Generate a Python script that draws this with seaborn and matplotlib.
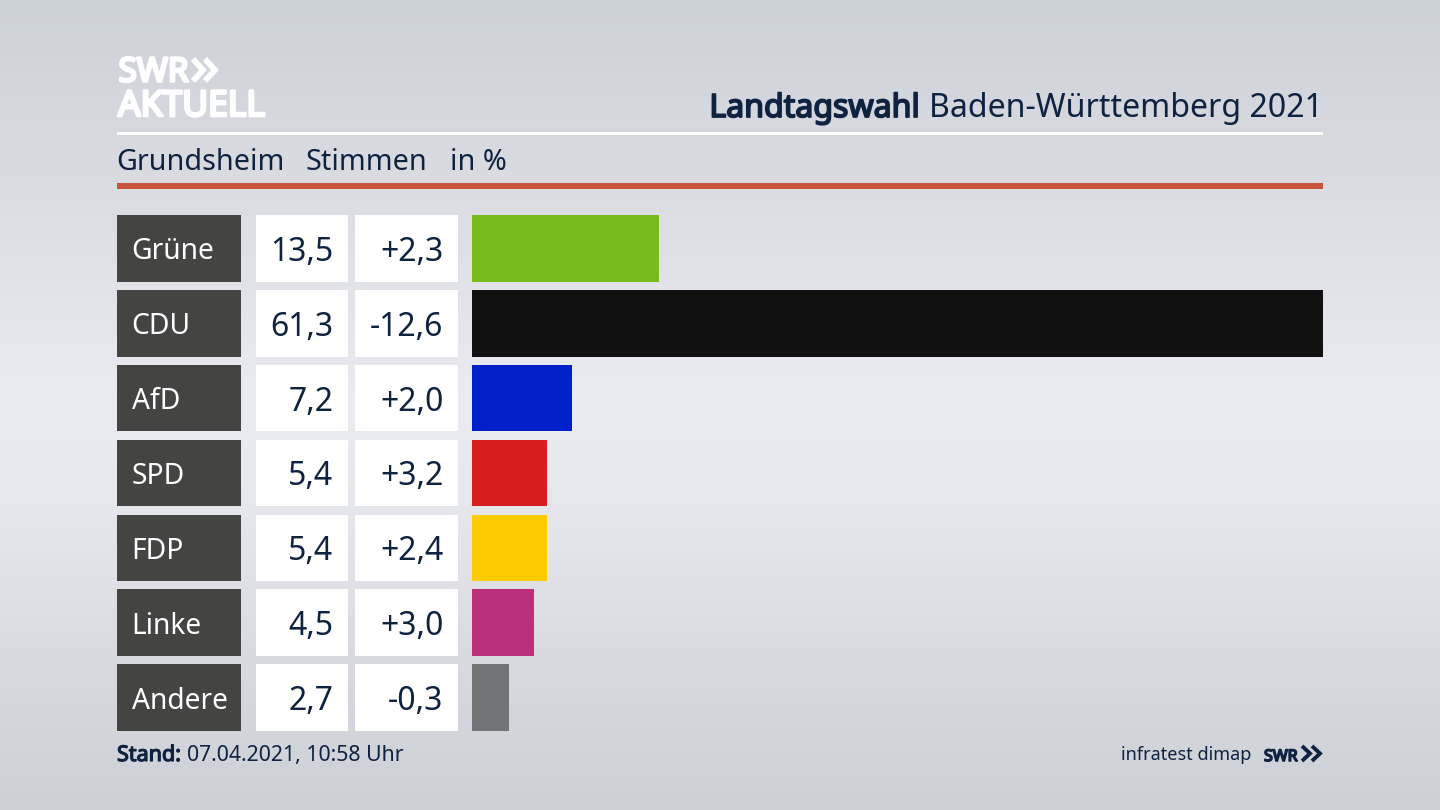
import numpy as np
import pandas as pd
import seaborn as sns
import matplotlib
matplotlib.use("Agg")
import matplotlib.pyplot as plt
import matplotlib.patheffects as pe
from matplotlib.colors import LinearSegmentedColormap

parties = ["Grüne", "CDU", "AfD", "SPD", "FDP", "Linke", "Andere"]
shares = [13.5, 61.3, 7.2, 5.4, 5.4, 4.5, 2.7]
changes = ["+2,3", "-12,6", "+2,0", "+3,2", "+2,4", "+3,0", "-0,3"]
colors = ["#78bc1b", "#111111", "#0020c8", "#d71f1d", "#ffcc00", "#bc2f7b", "#737476"]
title_bold = "Landtagswahl"
title_rest = "Baden-Württemberg 2021"
subtitle = ["Grundsheim", "Stimmen", "in %"]
stand_bold = "Stand:"
stand_rest = "07.04.2021, 10:58 Uhr"
source = "infratest dimap"

NAVY = "#0f2240"
FONT = "Noto Sans"
W, H = 1440, 810
sns.set_theme(style="white")
plt.rcParams["font.family"] = [FONT, "DejaVu Sans"]

fig = plt.figure(figsize=(W / 100, H / 100), dpi=100)


def axes_px(x0, y0, x1, y1, **kw):
    return fig.add_axes([x0 / W, 1 - y1 / H, (x1 - x0) / W, (y1 - y0) / H], **kw)


def heavy(color, lw):
    return [pe.withStroke(linewidth=lw, foreground=color)]


# background
bg = axes_px(0, 0, W, H)
cmap = LinearSegmentedColormap.from_list(
    "bg",
    [(0, "#cdd1d8"), (0.25, "#dbdde2"), (0.5, "#ebecf1"), (0.65, "#e5e6eb"), (0.85, "#d5d8dd"), (1, "#cdd1d7")],
)
bg.imshow(np.linspace(0, 1, 256)[:, None], aspect="auto", cmap=cmap, extent=(0, W, H, 0))
bg.set_axis_off()

# overlay in pixel coordinates for furniture
ov = axes_px(0, 0, W, H)
ov.set_xlim(0, W)
ov.set_ylim(H, 0)
ov.set_axis_off()
ov.patch.set_alpha(0)

df = pd.DataFrame({"party": parties, "share": shares, "change": changes})
rows = np.arange(len(parties))
BAR_W = 0.892
ylim = (len(parties) - 1 + 0.888 / 2, -0.888 / 2)
top, bottom = 215, 731


def cell_axes(x0, x1):
    ax = axes_px(x0, top, x1, bottom)
    ax.patch.set_alpha(0)
    ax.set_xlim(0, 1)
    ax.set_ylim(*ylim)
    ax.set_axis_off()
    return ax


lab = cell_axes(117, 241)
lab.barh(rows, 1, height=BAR_W, color="#444442", linewidth=0)
val = cell_axes(256, 348)
val.barh(rows, 1, height=BAR_W, color="white", linewidth=0)
chg = cell_axes(355, 458)
chg.barh(rows, 1, height=BAR_W, color="white", linewidth=0)
for r, p, s, c in zip(rows, parties, shares, changes):
    lab.text(14.5 / 124, r, p, color="white", fontsize=20.3, va="center_baseline", ha="left")
    val.text(77.5 / 92, r, f"{s:.1f}".replace(".", ","), color=NAVY, fontsize=23, va="center_baseline", ha="right")
    chg.text(88.5 / 103, r, c, color=NAVY, fontsize=23, va="center_baseline", ha="right")

# bars
ax = axes_px(472, top, 1323, bottom)
ax.patch.set_alpha(0)
sns.barplot(data=df, y="party", x="share", hue="party", palette=colors, width=BAR_W,
            dodge=False, legend=False, saturation=1, ax=ax, linewidth=0)
ax.set_xlim(0, max(shares))
ax.set_ylim(*ylim)
ax.set_axis_off()

# rules
ov.fill_between([117, 1323], 132, 135, color="white", lw=0)
ov.fill_between([117, 1323], 183.3, 189, color="#c9523a", lw=0)


def chevrons(x0, y0, y1, w, gap, lw, color):
    ym = (y0 + y1) / 2
    for i in range(2):
        xs = [x0 + i * gap, x0 + i * gap + w, x0 + i * gap]
        ov.plot(xs, [y0, ym, y1], color=color, lw=lw, solid_joinstyle="miter", solid_capstyle="butt")


# logo
ov.text(118.5, 81.5, "SWR", color="white", fontsize=24, ha="left", va="baseline", path_effects=heavy("white", 2.0))
chevrons(193, 59, 81, 10, 12, 4.2, "white")
ov.text(118, 116, "AKTUELL", color="white", fontsize=25.5, ha="left", va="baseline", path_effects=heavy("white", 2.0))

# title
t2 = ov.text(1323, 117, title_rest, color=NAVY, fontsize=23.1, ha="right", va="baseline")
fig.canvas.draw()
bb = t2.get_window_extent()
ov.text(bb.x0 - 9, 117, title_bold, color=NAVY, fontsize=23.1, ha="right", va="baseline", path_effects=heavy(NAVY, 1.3))

# subtitle
for x, s in zip([116.5, 305.5, 450], subtitle):
    ov.text(x, 170, s, color=NAVY, fontsize=20.7, ha="left", va="baseline")

# footer
ov.text(117, 761, stand_bold, color=NAVY, fontsize=15.5, ha="left", va="baseline", path_effects=heavy(NAVY, 0.9))
ov.text(187, 761, stand_rest, color=NAVY, fontsize=15.3, ha="left", va="baseline")
ov.text(1251, 760, source, color=NAVY, fontsize=13, ha="right", va="baseline")
ov.text(1264, 761, "SWR", color=NAVY, fontsize=11.5, ha="left", va="baseline", path_effects=heavy(NAVY, 1.2))
chevrons(1302, 746, 761, 8, 10, 2.8, NAVY)

fig.savefig("out.png", dpi=100)
